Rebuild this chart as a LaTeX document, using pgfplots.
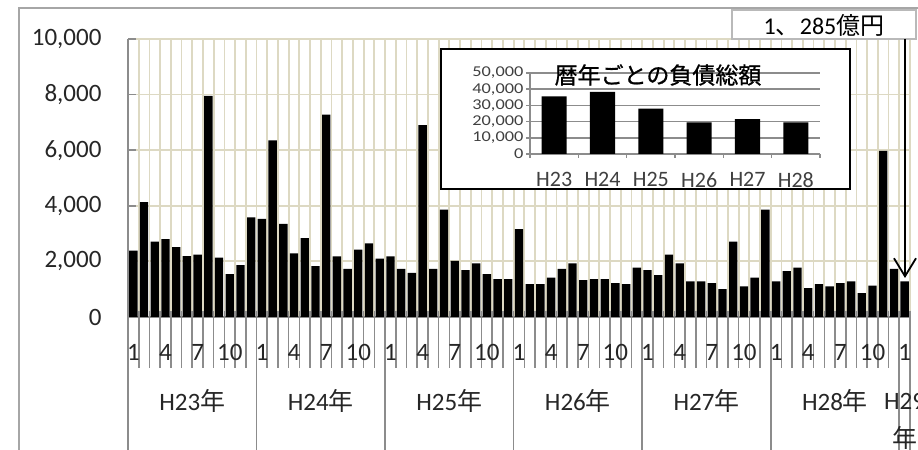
\documentclass[border=0pt]{standalone}
\usepackage{pgfplots}
\pgfplotsset{compat=1.18}
\usepackage{pgfplotstable}
\usetikzlibrary{arrows.meta}
\usepackage{fontspec}
\setmainfont{Carlito}
\newfontfamily\jp{Noto Sans CJK JP}
\newfontfamily\jpb[FakeBold=0.8]{Noto Sans CJK JP}
\definecolor{beige}{HTML}{DDD9C3}
\definecolor{axgray}{HTML}{8C8C8C}
\definecolor{txt}{HTML}{262626}
\definecolor{itxt}{HTML}{404040}
\newcommand\lbl{\fontsize{25bp}{30bp}\selectfont}
\def\stp{10.71233}

% monthly debt total (100 million yen), H23/1 .. H29/1
\pgfplotstableread{
v
2385
4130
2710
2800
2510
2190
2240
7950
2140
1540
1870
3580
3530
6350
3350
2290
2840
1830
7280
2180
1730
2420
2650
2100
2180
1730
1590
6900
1730
3860
2020
1690
1930
1540
1360
1360
3160
1180
1180
1420
1730
1930
1330
1360
1360
1220
1180
1780
1690
1510
2240
1930
1280
1280
1220
1000
2710
1100
1420
3860
1280
1650
1780
1040
1180
1100
1220
1280
860
1130
5980
1730
1285
}\monthly

\pgfplotstableread{
x v
1 35600
2 38300
3 28000
4 19500
5 21600
6 19500
}\yearly

\begin{document}
\begin{tikzpicture}
\useasboundingbox (0bp,0bp) rectangle (918bp,450bp);
\clip (0bp,0bp) rectangle (918bp,450bp);
\begin{scope}[x=1bp,y=1bp]
\draw[gray!70, line width=1.5bp] (19,-5) -- (19,442) -- (930,442);
\end{scope}

\begin{axis}[
  at={(128bp,133bp)}, anchor=south west, scale only axis,
  width=782bp, height=278bp,
  xmin=0.5, xmax=73.5, ymin=0, ymax=10000,
  ybar, bar width=0.78,
  axis x line*=bottom, axis y line*=left,
  axis line style={draw=axgray, line width=1.5bp, -},
  xtick={0.5,1.5,...,73.5}, xticklabel=\empty,
  xmajorgrids, ymajorgrids,
  grid style={draw=beige, line width=1.8bp},
  ytick={0,2000,...,10000},
  tick align=inside, major tick length=8bp,
  xtick style={draw=none},
  ytick style={draw=axgray, line width=1.5bp},
  scaled y ticks=false,
  /pgf/number format/1000 sep={,},
  /pgf/number format/assume math mode=true,
  yticklabel style={font=\lbl, text=txt, xshift=-23bp},
]
\addplot[fill=black, draw=none] table[x expr=\coordindex+1, y=v] {\monthly};
\end{axis}

\begin{scope}[x=1bp,y=1bp]
% month tick lines and year separators
\foreach \i in {0,...,73} {
  \pgfmathsetmacro\xx{128+\i*\stp}
  \draw[axgray, line width=1.6bp] (\xx,139) -- (\xx,82);
}
\foreach \i in {0,12,24,36,48,60,72,73} {
  \pgfmathsetmacro\xx{128+\i*\stp}
  \draw[axgray, line width=1.6bp] (\xx,139) -- (\xx,-2);
}
% month labels
\foreach \yr in {0,...,5} {
  \foreach \m in {1,4,7,10} {
    \pgfmathsetmacro\xx{128+(12*\yr+\m-0.5)*\stp}
    \node[font=\lbl, text=txt, inner sep=0] at (\xx,98) {\m};
  }
}
\pgfmathsetmacro\xx{128+72.5*\stp}
\node[font=\lbl, text=txt, inner sep=0] at (\xx,98) {1};
% year labels
\foreach \yr/\nm in {0/23,1/24,2/25,3/26,4/27,5/28} {
  \pgfmathsetmacro\xx{128+(12*\yr+6)*\stp}
  \node[font=\lbl, text=txt, inner sep=0] at (\xx,49) {H\nm{\jp 年}};
}
\node[font=\lbl, text=txt, inner sep=0] at (904.6,49) {H29};
\node[font=\lbl, text=txt, inner sep=0] at (904.6,12) {\jp 年};

% inset frame
\draw[black, line width=2bp, fill=white] (441,261) rectangle (850,401);
\end{scope}

\begin{axis}[
  at={(530bp,296bp)}, anchor=south west, scale only axis,
  width=290bp, height=81bp,
  xmin=0.5, xmax=6.5, ymin=0, ymax=50000,
  ybar, bar width=0.52,
  axis x line*=bottom, axis y line*=left,
  axis line style={draw=axgray, line width=1.5bp, -},
  xtick={0.5,1.5,...,6.5},
  xticklabels={H23,H24,H25,H26,H27,H28,{}},
  xticklabel style={font=\fontsize{22bp}{26bp}\selectfont, text=itxt, xshift=24.17bp, yshift=-11bp},
  ytick={0,10000,...,50000}, ymajorgrids,
  grid style={draw=axgray, line width=1.5bp},
  tick align=outside, major tick length=4bp,
  tick style={draw=axgray, line width=1.5bp},
  scaled y ticks=false,
  /pgf/number format/1000 sep={,},
  /pgf/number format/assume math mode=true,
  yticklabel style={font=\fontsize{15bp}{17bp}\selectfont, text=itxt, xscale=1.22, inner sep=2bp},
]
\addplot[fill=black, draw=none] table[x=x, y=v] {\yearly};
\end{axis}

\begin{scope}[x=1bp,y=1bp]
\node[font=\fontsize{23bp}{27bp}\selectfont\jpb, inner sep=0] at (658,375) {暦年ごとの負債総額};
% callout
\draw[draw=gray!55, fill=white, line width=1.2bp] (732,411) rectangle (916,440);
\node[font=\fontsize{24bp}{28bp}\selectfont, inner sep=0] at (824,425) {1{\jp 、}285{\jp 億円}};
\draw[line width=2bp, -{Straight Barb[length=18bp,width=22bp,line width=1.8bp]}] (905,411) -- (905,172);
\end{scope}
\end{tikzpicture}
\end{document}
